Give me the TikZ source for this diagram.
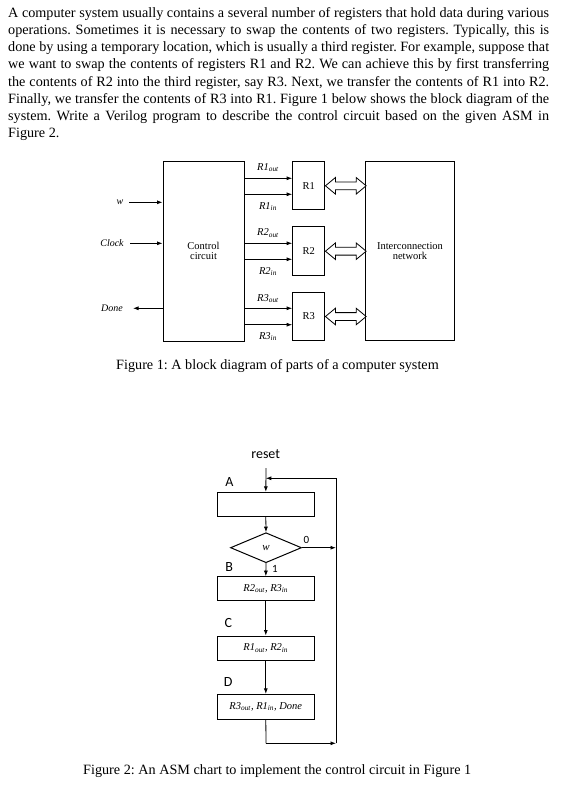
\documentclass[tikz,border=0pt]{standalone}
\usepackage{fontspec}
\setmainfont{Liberation Serif}
\newfontfamily\calfont{Carlito}
\usetikzlibrary{arrows.meta,shapes.geometric}
\frenchspacing
\newcommand{\bodyline}[1]{\fontsize{14.2}{17}\selectfont\makebox[541pt][s]{#1}}
\newcommand{\sig}[2]{\textit{#1\textsubscript{#2}}}
\begin{document}
\begin{tikzpicture}[x=1pt,y=-1pt,
  box/.style={draw, line width=1pt, inner sep=0pt},
  arr/.style={-{Latex[length=5.5pt,width=4pt]}, line width=0.8pt},
  ln/.style={line width=0.8pt},
  small/.style={font=\fontsize{10.5}{10.5}\selectfont, align=center},
  lab/.style={font=\fontsize{10}{11}\selectfont\itshape, inner sep=0pt},
  sublab/.style={font=\fontsize{10.5}{11}\selectfont\itshape, inner sep=0pt},
  asmlab/.style={font=\calfont\fontsize{14}{15}\selectfont, inner sep=0pt},
  asmbox/.style={draw, line width=1pt, minimum width=97pt, inner sep=0pt, font=\fontsize{10.5}{12}\selectfont},
  dbl/.style={draw, line width=0.8pt, fill=white},
  figcap/.style={font=\fontsize{14.2}{15}\selectfont, inner sep=0pt, anchor=base}]
\useasboundingbox (0,0) rectangle (562,790);

% ---------- paragraph ----------
\node[anchor=base west, inner sep=0pt] (t1) at (8,17.6) {\bodyline{A computer system usually contains a several number of registers that hold data during various}};
\node[anchor=base west, inner sep=0pt] (t2) at (8,34.7) {\bodyline{operations. Sometimes it is necessary to swap the contents of two registers. Typically, this is}};
\node[anchor=base west, inner sep=0pt] (t3) at (8,51.8) {\bodyline{done by using a temporary location, which is usually a third register. For example, suppose that}};
\node[anchor=base west, inner sep=0pt] (t4) at (8,68.9) {\bodyline{we want to swap the contents of registers R1 and R2. We can achieve this by first transferring}};
\node[anchor=base west, inner sep=0pt] (t5) at (8,86.0) {\bodyline{the contents of R2 into the third register, say R3. Next, we transfer the contents of R1 into R2.}};
\node[anchor=base west, inner sep=0pt] (t6) at (8,103.1) {\bodyline{Finally, we transfer the contents of R3 into R1. Figure 1 below shows the block diagram of the}};
\node[anchor=base west, inner sep=0pt] (t7) at (8,120.2) {\bodyline{system. Write a Verilog program to describe the control circuit based on the given ASM in}};
\node[anchor=base west, inner sep=0pt, font=\fontsize{14.2}{17}\selectfont] (t8) at (8,137.3) {Figure 2.};

% ---------- Figure 1 ----------
\node[box, minimum width=81pt, minimum height=180pt, small] (ctrl) at (203.5,251) {Control\\circuit};
\node[box, minimum width=32.3pt, minimum height=48.3pt, small] (r1) at (308.8,185.8) {R1};
\node[box, minimum width=32.3pt, minimum height=49pt, small] (r2) at (308.8,251.2) {R2};
\node[box, minimum width=32.3pt, minimum height=48.4pt, small] (r3) at (308.8,316.5) {R3};
\node[box, minimum width=88.6pt, minimum height=179pt, small] (net) at (410,251.2) {Interconnection\\network};

% inputs / outputs of control circuit
\node[lab] (wl) at (120,202.3) {w};
\node[lab] (clkl) at (112,243.3) {Clock};
\node[lab] (donel) at (112,308.3) {Done};
\coordinate (win) at (129,202.3);
\coordinate (clkin) at (130,243.3);
\coordinate (doneout) at (133,308.3);
\draw[arr] (win) -- (ctrl.west |- win);
\draw[arr] (clkin) -- (ctrl.west |- clkin);
\draw[arr] (ctrl.west |- doneout) -- (doneout);

% control signals
\foreach \nm/\yy/\reg/\txt/\ly in {
  r1o/178.3/r1/\sig{R1}{out}/167.5, r1i/194.3/r1/\sig{R1}{in}/206.5,
  r2o/243.3/r2/\sig{R2}{out}/233, r2i/259.3/r2/\sig{R2}{in}/271.5,
  r3o/308.3/r3/\sig{R3}{out}/298.5, r3i/324.7/r3/\sig{R3}{in}/336.5}{
  \coordinate (\nm) at (250,\yy);
  \draw[arr] (ctrl.east |- \nm) -- (\reg.west |- \nm);
  \node[sublab] (\nm l) at (268,\ly) {\txt};
}

% double arrows between registers and network
\foreach \reg in {r1,r2,r3}{
  \draw[dbl, shift={(\reg.east)}] (0,0) -- (10,-8.3) -- (10,-3.9) -- (30.7,-3.9) -- (30.7,-8.3)
    -- (40.7,0) -- (30.7,8.3) -- (30.7,3.9) -- (10,3.9) -- (10,8.3) -- cycle;
}

\node[figcap] (cap1) at (277.5,369.5) {Figure 1: A block diagram of parts of a computer system};

% ---------- Figure 2 : ASM chart ----------
\node[asmlab] (reset) at (265.7,454) {reset};
\coordinate (rstart) at (266,468);
\node[asmbox, minimum height=24.4pt] (A) at (265.8,504.5) {};
\node[draw, diamond, line width=1pt, minimum width=71pt, minimum height=30pt, aspect=2.37, inner sep=0pt,
      font=\fontsize{11}{12}\selectfont\itshape] (dw) at (266,547.7) {w};
\node[asmbox, minimum height=24pt] (B) at (265.8,588.7) {\sig{R2}{out}\textit{, }\sig{R3}{in}};
\node[asmbox, minimum height=24pt] (C) at (265.8,648) {\sig{R1}{out}\textit{, }\sig{R2}{in}};
\node[asmbox, minimum height=24.7pt] (D) at (265.8,706.7) {\sig{R3}{out}\textit{, }\sig{R1}{in}\textit{, Done}};

\node[asmlab] (la) at (229.3,481.7) {A};
\node[asmlab] (lb) at (229.3,566.7) {B};
\node[asmlab] (lc) at (228.3,623.3) {C};
\node[asmlab] (ld) at (228.3,681.7) {D};
\node[inner sep=0pt, font=\calfont\fontsize{11}{12}\selectfont] (l0) at (306.5,540) {0};
\node[inner sep=0pt, font=\calfont\fontsize{11}{12}\selectfont] (l1) at (275,568.5) {1};

\coordinate (looptop) at (336,478.3);
\coordinate (loopbot) at (336,743.3);
\coordinate (dbot) at (266,743.3);
\coordinate (zero) at (336,547.7);

\draw[arr] (rstart) -- (A.north);
\draw[arr] (A.south) -- (dw.north);
\draw[arr] (dw.south) -- (B.north);
\draw[arr] (B.south) -- (C.north);
\draw[arr] (C.south) -- (D.north);
\draw[arr] (dw.east) -- (zero);
\draw[ln] (D.south) -- (dbot);
\draw[arr] (dbot) -- (loopbot);
\draw[ln] (loopbot) -- (looptop);
\draw[arr] (looptop) -- (A.north |- looptop);

\node[figcap] (cap2) at (277.2,774.5) {Figure 2: An ASM chart to implement the control circuit in Figure 1};
\end{tikzpicture}
\end{document}
